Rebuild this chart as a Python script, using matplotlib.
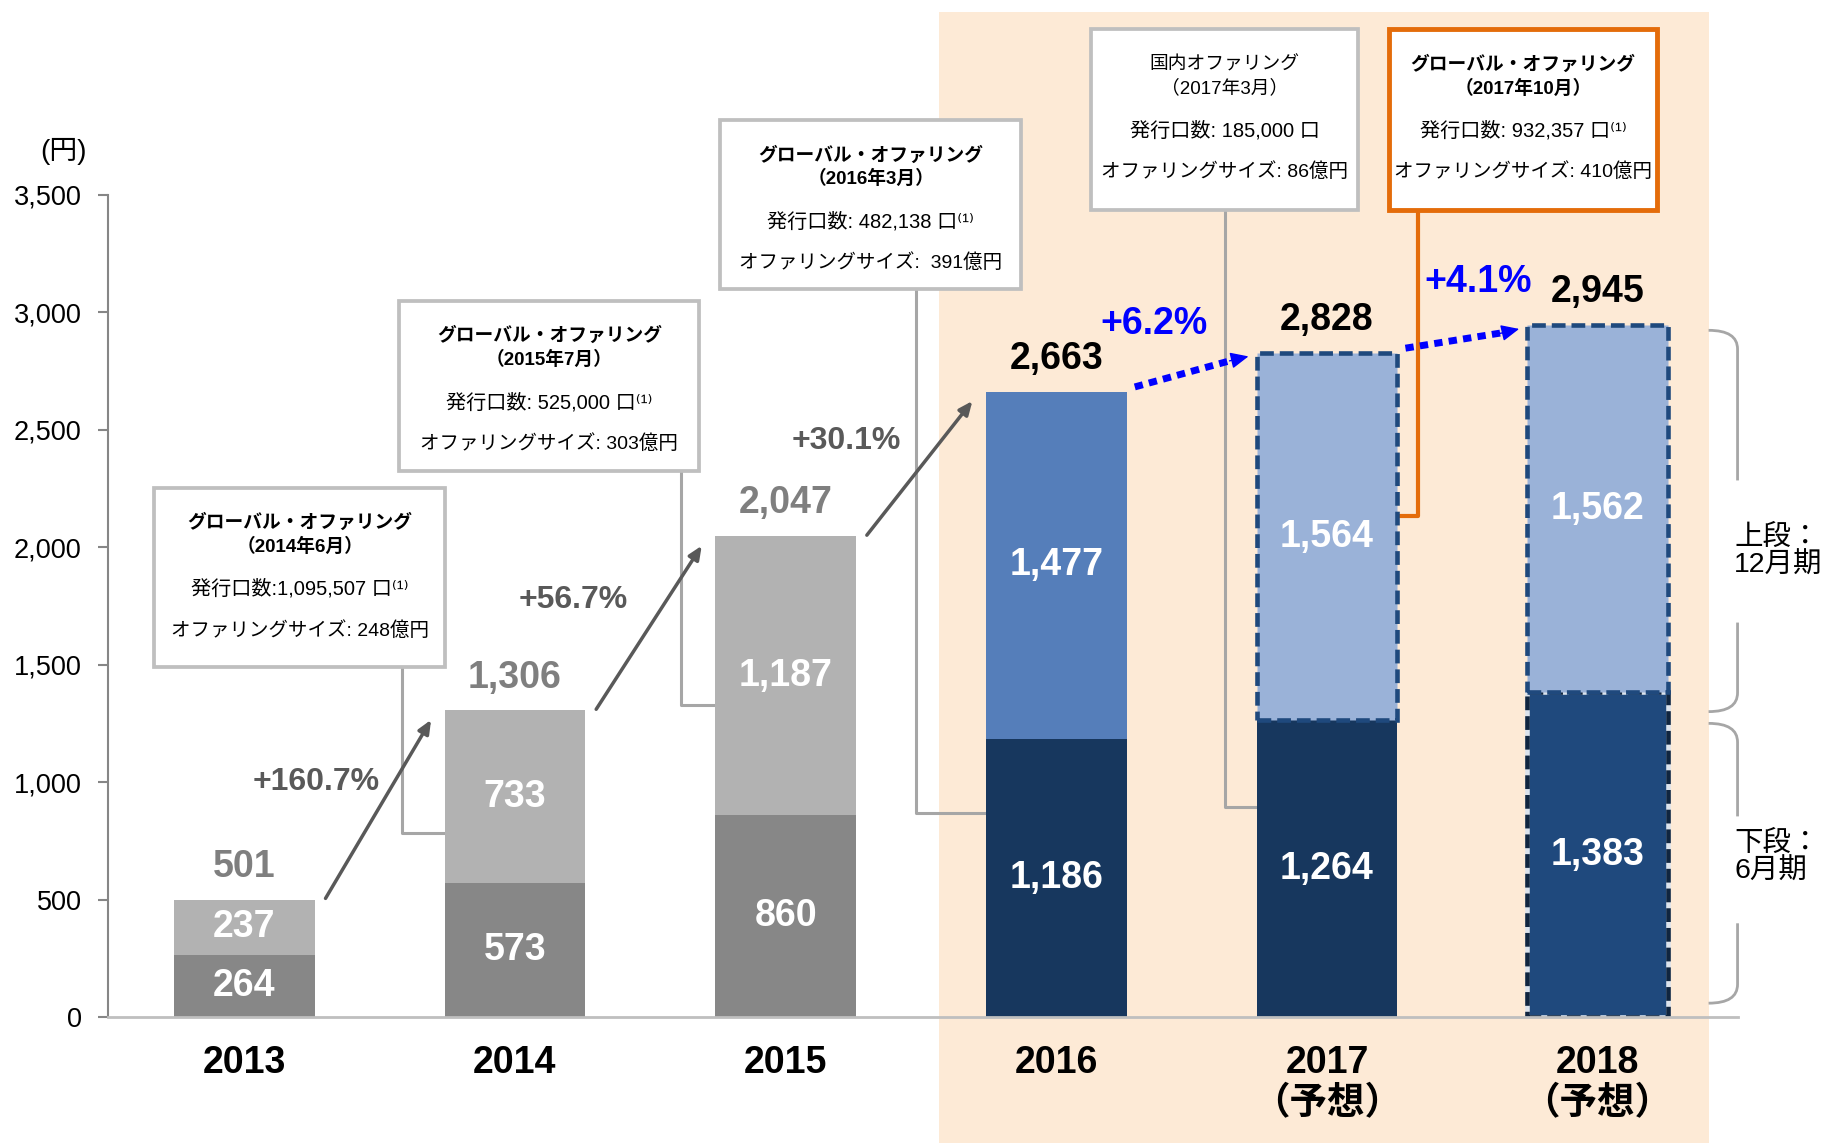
import numpy as np
import matplotlib
matplotlib.use('Agg')
import matplotlib.pyplot as plt
from matplotlib.patches import Rectangle
from matplotlib.path import Path
from matplotlib.patches import PathPatch

plt.rcParams['font.family'] = ['Liberation Sans', 'Noto Sans CJK JP', 'DejaVu Sans']

# データ
years = ['2013', '2014', '2015', '2016', '2017\n（予想）', '2018\n（予想）']
lower = [264, 573, 860, 1186, 1264, 1383]    # 6月期
upper = [237, 733, 1187, 1477, 1564, 1562]   # 12月期
totals = [501, 1306, 2047, 2663, 2828, 2945]
growth = ['+160.7%', '+56.7%', '+30.1%', '+6.2%', '+4.1%']

offer_titles = ['グローバル・オファリング\n（2014年6月）',
                'グローバル・オファリング\n（2015年7月）',
                'グローバル・オファリング\n（2016年3月）',
                '国内オファリング\n（2017年3月）',
                'グローバル・オファリング\n（2017年10月）']
offer_units = ['発行口数:1,095,507 口⁽¹⁾', '発行口数: 525,000 口⁽¹⁾',
               '発行口数: 482,138 口⁽¹⁾', '発行口数: 185,000 口',
               '発行口数: 932,357 口⁽¹⁾']
offer_sizes = ['オファリングサイズ: 248億円', 'オファリングサイズ: 303億円',
               'オファリングサイズ:  391億円', 'オファリングサイズ: 86億円',
               'オファリングサイズ: 410億円']

lower_colors = ['#878787', '#878787', '#878787', '#17375E', '#17375E', '#1F497D']
upper_colors = ['#B2B2B2', '#B2B2B2', '#B2B2B2', '#557EBA', '#9AB2D8', '#9AB2D8']
total_colors = ['#7F7F7F', '#7F7F7F', '#7F7F7F', 'black', 'black', 'black']

x = np.arange(len(years))
w = 0.52

fig = plt.figure(figsize=(18.29, 11.43), dpi=100)
ax = fig.add_axes([0.059, 0.110, 0.891, 0.890])
ax.set_xlim(-0.504, 5.517)
ax.set_ylim(0, 4330)

# 予想期間の背景
ax.axvspan(2.565, 5.41, ymin=-0.124, ymax=0.988, color='#FDEAD6', zorder=0, clip_on=False, lw=0)

b_low = ax.bar(x, lower, width=w, color=lower_colors, zorder=3)
b_up = ax.bar(x, upper, width=w, bottom=lower, color=upper_colors, zorder=3)

dash = (0, (3, 1.3))
for i in [4, 5]:
    b_up[i].set_edgecolor('#1F497D')
    b_up[i].set_linewidth(3.3)
    b_up[i].set_linestyle(dash)
b_low[5].set_edgecolor('#DCE3EC')
b_low[5].set_linewidth(3.3)
ax.bar(x[5], lower[5], width=w, fill=False, edgecolor='#10253F', lw=3.3, ls=dash, zorder=3.5)
b_up[5].set_zorder(3.6)

# 数値ラベル
for i in range(len(x)):
    ax.text(x[i], lower[i] / 2, f'{lower[i]:,}', ha='center', va='center',
            color='white', fontsize=27, fontweight='bold', zorder=6)
    ax.text(x[i], lower[i] + upper[i] / 2, f'{upper[i]:,}', ha='center', va='center',
            color='white', fontsize=27, fontweight='bold', zorder=6)
    ax.text(x[i], totals[i] + 140, f'{totals[i]:,}', ha='center', va='center',
            color=total_colors[i], fontsize=27, fontweight='bold', zorder=6)

# 成長率の矢印
label_off = [(-0.23, 115), (-0.28, 115), (-0.27, 117), (-0.14, 205), (0.06, 240)]
for i in range(5):
    if i < 3:
        s = (x[i] + 0.30, totals[i] + 5)
        e = (x[i + 1] - 0.31, totals[i + 1] - 40)
        ax.annotate('', xy=e, xytext=s, zorder=4,
                    arrowprops=dict(arrowstyle='-|>,head_width=0.35,head_length=0.8',
                                    color='#595959', lw=2.5, shrinkA=0, shrinkB=0))
        col, fs = '#595959', 23
    else:
        s = (x[i] + 0.29, totals[i] + 20)
        e = (x[i + 1] - 0.29, totals[i + 1] - 15)
        ax.plot([s[0], e[0] - 0.06], [s[1], e[1] - 16], color='#0000FF', lw=5,
                ls=(0, (1.2, 0.9)), zorder=4, solid_capstyle='butt')
        ax.annotate('', xy=e, xytext=(e[0] - 0.07, e[1] - 19), zorder=4,
                    arrowprops=dict(arrowstyle='-|>,head_width=0.5,head_length=1.1',
                                    color='#0000FF', lw=1, shrinkA=0, shrinkB=0))
        col, fs = '#0000FF', 27
    mx, my = (s[0] + e[0]) / 2, (s[1] + e[1]) / 2
    ax.text(mx + label_off[i][0], my + label_off[i][1], growth[i], ha='center', va='center',
            color=col, fontsize=fs, fontweight='bold', zorder=6)

# オファリングの吹き出し
box_x = [(-0.332, 0.741), (0.573, 1.681), (1.759, 2.871), (3.129, 4.116), (4.228, 5.220)]
box_y = [(1490, 2254), (2324, 3049), (3098, 3818), (3436, 4205), (3436, 4205)]
conn_x = [0.582, 1.612, 2.483, 3.625, 4.336]
conn_y = [784, 1331, 869, 894, 2135]
conn_end = [x[1] - w / 2, x[2] - w / 2, x[3] - w / 2, x[4] - w / 2, x[4] + w / 2]
for j in range(5):
    ec = '#E46C0A' if j == 4 else '#BFBFBF'
    lc = '#E46C0A' if j == 4 else '#A6A6A6'
    lw = 3 if j == 4 else 2.2
    ax.plot([conn_x[j], conn_x[j], conn_end[j]], [box_y[j][0], conn_y[j], conn_y[j]],
            color=lc, lw=lw, zorder=2)
    x0, x1 = box_x[j]
    y0, y1 = box_y[j]
    ax.add_patch(Rectangle((x0, y0), x1 - x0, y1 - y0, facecolor='white', edgecolor=ec,
                           lw=lw + 0.5, zorder=5, clip_on=False))
    cx = (x0 + x1) / 2
    fw = 'normal' if j == 3 else 'bold'
    ax.text(cx, y1 - 200, offer_titles[j], ha='center', va='center', fontsize=13.5,
            fontweight=fw, zorder=6, linespacing=1.4)
    ax.text(cx, y1 - 432, offer_units[j], ha='center', va='center', fontsize=14.5, zorder=6)
    ax.text(cx, y1 - 606, offer_sizes[j], ha='center', va='center', fontsize=14, zorder=6)


# 右側の括弧
def brace(y_top, y_bot, gap_top, gap_bot):
    x0, x1 = 5.41, 5.517
    r = 80
    verts = [(x0, y_top), (x1, y_top), (x1, y_top - r), (x1, gap_top)]
    codes = [Path.MOVETO, Path.CURVE3, Path.CURVE3, Path.LINETO]
    ax.add_patch(PathPatch(Path(verts, codes), fill=False, edgecolor='#A6A6A6', lw=2,
                           clip_on=False, zorder=2))
    verts = [(x1, gap_bot), (x1, y_bot + r), (x1, y_bot), (x0, y_bot)]
    codes = [Path.MOVETO, Path.LINETO, Path.CURVE3, Path.CURVE3]
    ax.add_patch(PathPatch(Path(verts, codes), fill=False, edgecolor='#A6A6A6', lw=2,
                           clip_on=False, zorder=2))


brace(2924, 1301, 2285, 1680)
brace(1251, 60, 855, 400)
ax.text(5.505, 1981, '上段：\n12月期', ha='left', va='center', fontsize=20.5, linespacing=1.1)
ax.text(5.505, 680, '下段：\n6月期', ha='left', va='center', fontsize=20.5, linespacing=1.1)

# 軸
ax.set_yticks(np.arange(0, 3501, 500))
ax.set_yticklabels([f'{v:,}' for v in np.arange(0, 3501, 500)])
ax.set_xticks(x)
ax.set_xticklabels(years, fontsize=27, fontweight='bold', linespacing=1.2)
ax.tick_params(axis='x', length=0, pad=20)
ax.tick_params(axis='y', length=7, width=1.5, color='#868686', labelsize=19.5, pad=12)
ax.spines['top'].set_visible(False)
ax.spines['right'].set_visible(False)
ax.spines['left'].set_bounds(0, 3500)
ax.spines['left'].set_color('#868686')
ax.spines['left'].set_linewidth(1.5)
ax.spines['bottom'].set_color('#BFBFBF')
ax.spines['bottom'].set_linewidth(2)
ax.spines['bottom'].set_zorder(3.7)
ax.text(-0.668, 3684, '(円)', ha='center', va='center', fontsize=20, clip_on=False)

fig.savefig('out.png', dpi=100)
